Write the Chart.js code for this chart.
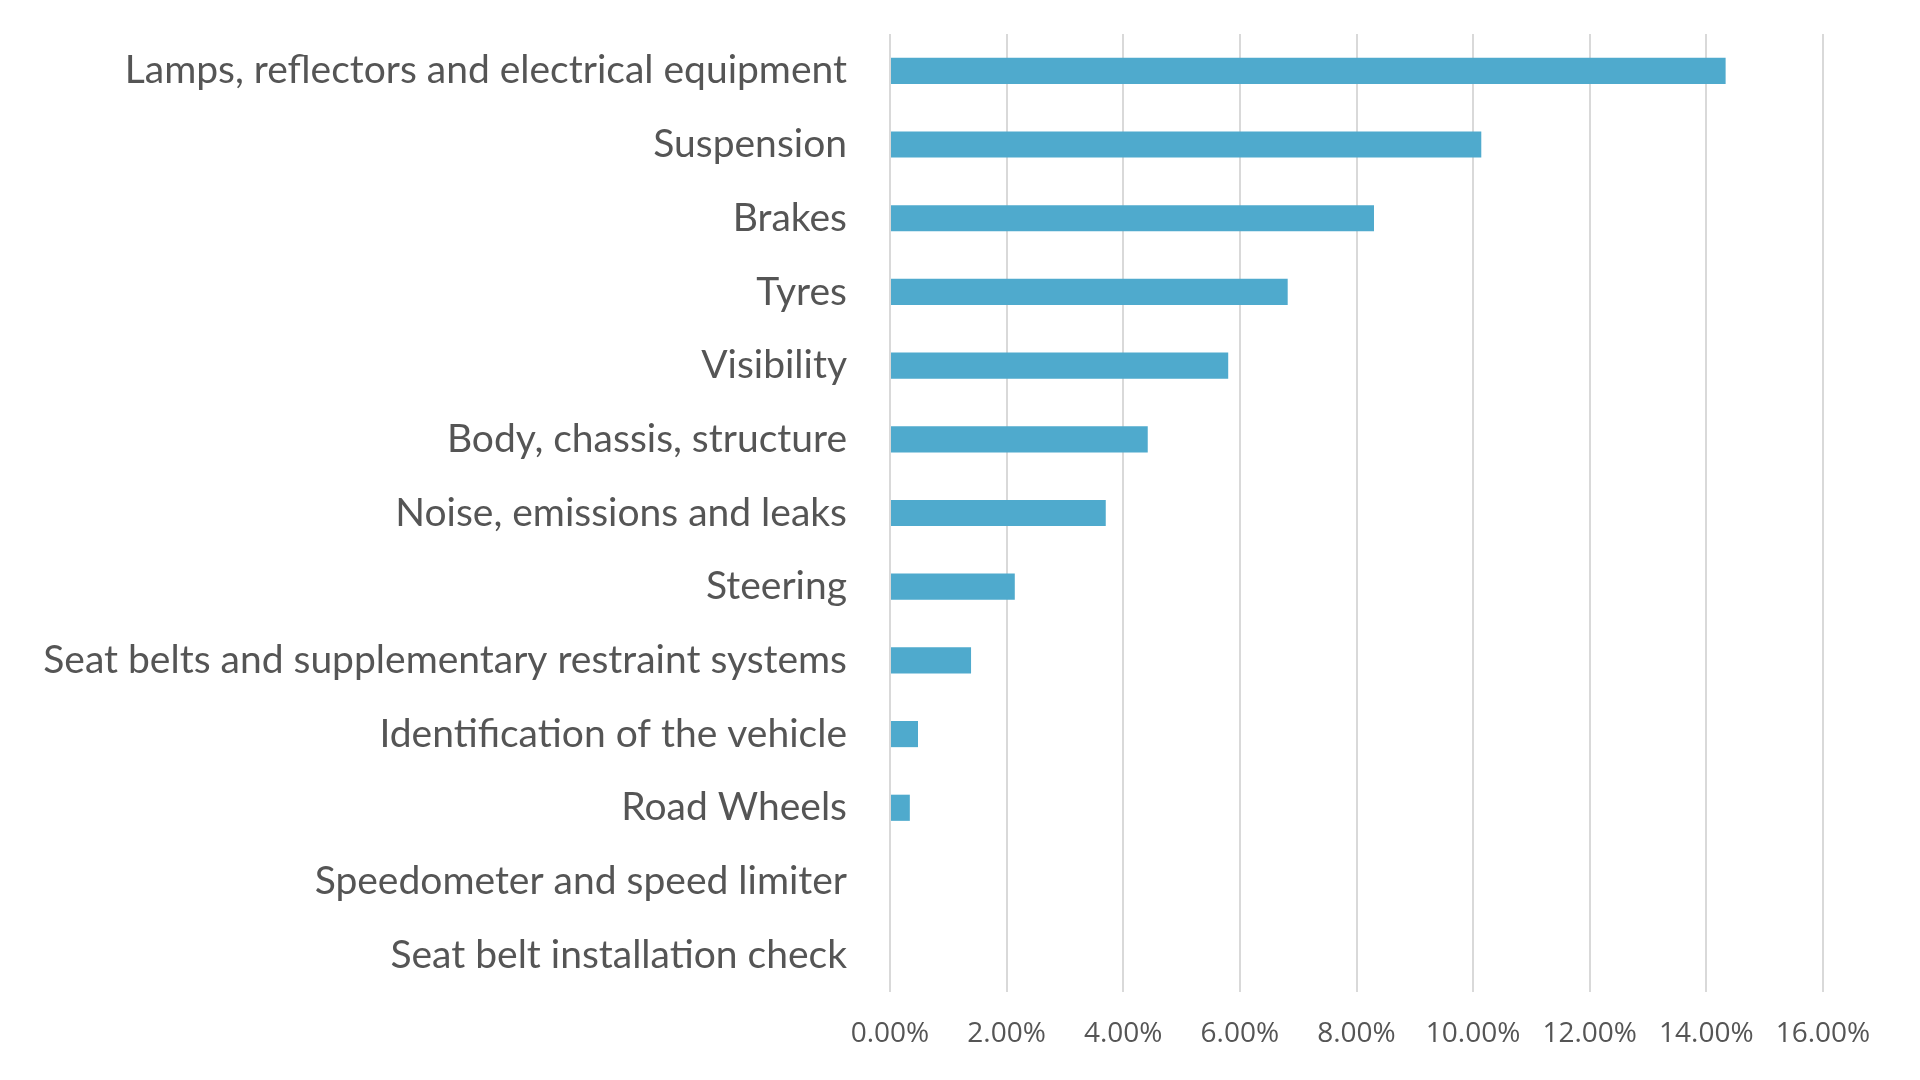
<!DOCTYPE html>
<html>
<head>
<meta charset="utf-8">
<script src="https://cdn.jsdelivr.net/npm/chart.js@4"></script>
<style>
    html, body { margin: 0; padding: 0; background: #fff; }
    #wrap { width: 1920px; height: 1080px; }
</style>
</head>
<body>
<div id="wrap"><canvas id="chart"></canvas></div>
<script>
// Test items and the share of failures for each
const categories = [
    'Lamps, reflectors and electrical equipment',
    'Suspension',
    'Brakes',
    'Tyres',
    'Visibility',
    'Body, chassis, structure',
    'Noise, emissions and leaks',
    'Steering',
    'Seat belts and supplementary restraint systems',
    'Identification of the vehicle',
    'Road Wheels',
    'Speedometer and speed limiter',
    'Seat belt installation check'
];
const failureShare = [14.33, 10.14, 8.30, 6.82, 5.80, 4.42, 3.70, 2.14, 1.39, 0.48, 0.34, 0, 0];
const tickValues = [0, 2, 4, 6, 8, 10, 12, 14, 16];

const labelColor = '#555555';
const gridColor = '#d9d9d9';

new Chart(document.getElementById('chart'), {
    type: 'bar',
    data: {
        labels: categories,
        datasets: [{
            data: failureShare,
            backgroundColor: '#4faacd',
            barPercentage: 0.355,
            categoryPercentage: 1
        }]
    },
    options: {
        indexAxis: 'y',
        responsive: true,
        maintainAspectRatio: false,
        animation: false,
        layout: {
            padding: { top: 34, right: 97, bottom: 0, left: 0 }
        },
        plugins: {
            legend: { display: false },
            tooltip: { enabled: false }
        },
        scales: {
            x: {
                min: 0,
                max: 16,
                afterBuildTicks: (scale) => {
                    scale.ticks = tickValues.map(v => ({ value: v }));
                },
                afterFit: (scale) => { scale.height = 88; },
                grid: { color: gridColor, lineWidth: 2, drawTicks: false },
                border: { display: false },
                ticks: {
                    padding: 25,
                    color: labelColor,
                    font: { family: '"Open Sans"', size: 28 },
                    callback: (v) => v.toFixed(2) + '%'
                }
            },
            y: {
                afterFit: (scale) => {
                    scale.width = 890;
                    // the tick padding is meant for the gap to the bars only
                    scale.paddingTop = 0;
                    scale.paddingBottom = 0;
                },
                grid: { display: false, drawTicks: false },
                border: { display: false },
                ticks: {
                    padding: 43,
                    color: labelColor,
                    font: { family: 'Lato', size: 39 }
                }
            }
        }
    }
});
</script>
</body>
</html>
